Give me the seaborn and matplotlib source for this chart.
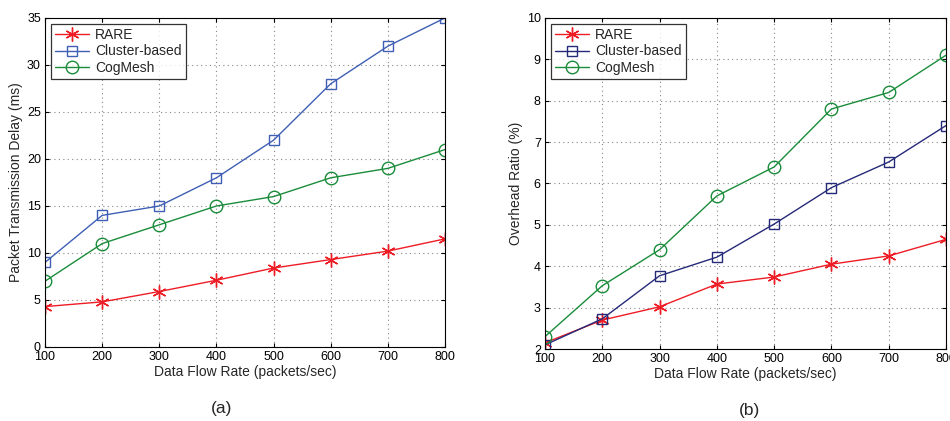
import matplotlib
matplotlib.use("Agg")
import matplotlib.pyplot as plt
import seaborn as sns
import pandas as pd

sns.set_style("white")
plt.rcParams['font.family'] = ['Liberation Sans', 'DejaVu Sans']

rates = [100, 200, 300, 400, 500, 600, 700, 800]
series_names = ["RARE", "Cluster-based", "CogMesh"]

delay_rare = [4.3, 4.8, 5.9, 7.1, 8.4, 9.3, 10.2, 11.5]
delay_cluster = [9, 14, 15, 18, 22, 28, 32, 35]
delay_cogmesh = [7, 11, 13, 15, 16, 18, 19, 21]

ovh_rare = [2.15, 2.70, 3.02, 3.57, 3.74, 4.05, 4.25, 4.65]
ovh_cluster = [2.10, 2.73, 3.77, 4.22, 5.02, 5.90, 6.52, 7.40]
ovh_cogmesh = [2.30, 3.53, 4.40, 5.70, 6.40, 7.80, 8.20, 9.10]

fig = plt.figure(figsize=(9.5, 4.21), dpi=100)
ax1 = fig.add_axes([0.0474, 0.1758, 0.4210, 0.7815])
ax2 = fig.add_axes([0.5737, 0.1710, 0.4221, 0.7863])

red = "#ee1c25"
blue_a = "#3f5fb5"
blue_b = "#252a78"
green = "#1a8c3a"

def draw(ax, vals, colors, ylim, yticks, ylabel):
    markers = ["*", "s", "o"]
    sizes = [10, 7.5, 9]
    for name, v, c, m, s in zip(series_names, vals, colors, markers, sizes):
        df = pd.DataFrame({"x": rates, "y": v})
        kw = dict(markerfacecolor="none", markeredgecolor=c) if m != "*" else dict(markerfacecolor=c, markeredgecolor=c)
        if m == "*":
            m = (6, 2, 0)
        sns.lineplot(data=df, x="x", y="y", ax=ax, color=c, marker=m,
                     markersize=s, linewidth=1.0, label=name, markeredgewidth=1.0, **kw)
    ax.set_xlim(100, 800)
    ax.set_ylim(*ylim)
    ax.set_xticks(rates)
    ax.set_yticks(yticks)
    ax.grid(True, linestyle=(0, (1, 3)), color="#888888", linewidth=0.8)
    for sp in ax.spines.values():
        sp.set_color("black")
        sp.set_linewidth(0.8)
    ax.tick_params(axis="both", direction="in", length=3, labelsize=9, pad=3,
                   left=True, bottom=True, top=True, right=True, colors="black")
    ax.set_xlabel("Data Flow Rate (packets/sec)", fontsize=10, labelpad=1)
    ax.set_ylabel(ylabel, fontsize=10, labelpad=3)
    leg = ax.legend(loc="upper left", fontsize=10, frameon=True, fancybox=False,
                    edgecolor="black", borderaxespad=0.4, handlelength=2.5,
                    labelspacing=0.2, borderpad=0.3, handletextpad=0.4)
    leg.get_frame().set_linewidth(0.9)

draw(ax1, [delay_rare, delay_cluster, delay_cogmesh], [red, blue_a, green],
     (0, 35), [0, 5, 10, 15, 20, 25, 30, 35], "Packet Transmission Delay (ms)")
draw(ax2, [ovh_rare, ovh_cluster, ovh_cogmesh], [red, blue_b, green],
     (2, 10), [2, 3, 4, 5, 6, 7, 8, 9, 10], "Overhead Ratio (%)")

fig.text(222 / 950, 1 - 408 / 421, "(a)", ha="center", va="center", fontsize=12.5)
fig.text(750 / 950, 1 - 410 / 421, "(b)", ha="center", va="center", fontsize=12.5)

fig.savefig("out.png", dpi=100)
